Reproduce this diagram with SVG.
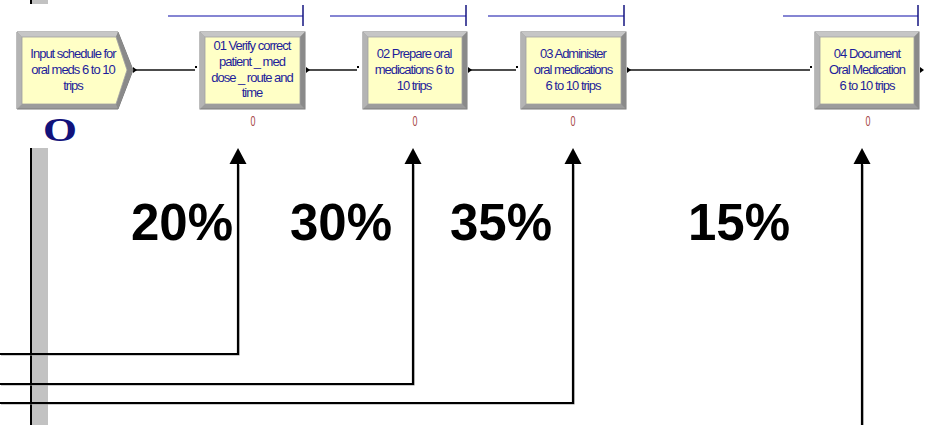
<svg xmlns="http://www.w3.org/2000/svg" width="926" height="425" viewBox="0 0 926 425">
<style>
.lbl{font-family:"Liberation Sans",Arial,sans-serif;font-size:13px;letter-spacing:-1px;fill:#1e1e9a;text-anchor:middle}
.cnt{font-family:"Liberation Sans",Arial,sans-serif;font-size:14px;fill:#a84848;text-anchor:middle}
.pct{font-family:"Liberation Sans",Arial,sans-serif;font-size:51px;font-weight:bold;fill:#000}
.outer{fill:#9c9c9c;stroke:#7c7c7c;stroke-width:1}
.top{fill:#c6c6c6}
.left{fill:#b4b4b4}
.right{fill:#8a8a8a}
.inner{fill:#ffffc6;stroke:#a0a0a0;stroke-width:0.8}
.hl{stroke:#5c5cc4;stroke-width:1.5}
.tick{stroke:#141480;stroke-width:1.5}
.conn{stroke:#111;stroke-width:1.3;fill:none}
.arr{stroke:#000;stroke-width:2.2;fill:none}
.sh{stroke:#9a9a9a;stroke-width:1.2;fill:none}
.head{fill:#000}
</style>
<rect width="926" height="425" fill="#fff"/>
<!-- left vertical bar -->
<g id="bar">
<rect x="32" y="0" width="16" height="4" fill="#c2c2c2"/>
<rect x="30" y="0" width="2" height="4" fill="#000"/>
<rect x="32" y="148" width="16" height="277" fill="#c2c2c2"/>
<rect x="30" y="148" width="2" height="277" fill="#000"/>
</g>
<!-- blue bars above nodes -->
<g id="bars">
<line class="hl" x1="168" y1="16" x2="303" y2="16"/><line class="tick" x1="303" y1="5" x2="303" y2="26"/>
<line class="hl" x1="330" y1="16" x2="466" y2="16"/><line class="tick" x1="466" y1="5" x2="466" y2="26"/>
<line class="hl" x1="488" y1="16" x2="624" y2="16"/><line class="tick" x1="624" y1="5" x2="624" y2="26"/>
<line class="hl" x1="783" y1="16" x2="918" y2="16"/><line class="tick" x1="918" y1="5" x2="918" y2="26"/>
</g>
<!-- connectors -->
<g id="connectors">
<line class="conn" x1="134" y1="70" x2="195" y2="70"/>
<line class="conn" x1="308" y1="70" x2="357" y2="70"/>
<line class="conn" x1="470" y1="70" x2="516" y2="70"/>
<line class="conn" x1="629" y1="70" x2="810" y2="70"/>
<polygon points="133,67 137,70 133,73" fill="#000"/>
<polygon points="306,67 310,70 306,73" fill="#000"/>
<polygon points="468,67 472,70 468,73" fill="#000"/>
<polygon points="627,67 631,70 627,73" fill="#000"/>
<polygon points="920,67 924,70 920,73" fill="#000"/>
<rect x="195" y="66" width="2" height="2" fill="#000"/>
<rect x="357" y="66" width="2" height="2" fill="#000"/>
<rect x="516" y="66" width="2" height="2" fill="#000"/>
<rect x="810" y="66" width="2" height="2" fill="#000"/>
<!-- percentage arrows -->
<polyline class="sh" points="1,355 239,355 239,165"/>
<polyline class="sh" points="1,385 414,385 414,165"/>
<polyline class="sh" points="1,404 574,404 574,165"/>
<line class="sh" x1="863" y1="425" x2="863" y2="165"/>
<polyline class="arr" points="0,354 238,354 238,162"/>
<polyline class="arr" points="0,384 413,384 413,162"/>
<polyline class="arr" points="0,403 573,403 573,162"/>
<line class="arr" x1="862" y1="425" x2="862" y2="162"/>
<polygon class="head" points="238,148 246.5,164 229.5,164"/>
<polygon class="head" points="413,148 421.5,164 404.5,164"/>
<polygon class="head" points="573,148 581.5,164 564.5,164"/>
<polygon class="head" points="862,148 870.5,164 853.5,164"/>
</g>
<!-- node 0: create module -->
<g id="node0">
<polygon class="outer" points="17,32 118,32 133,70 118,109 17,109"/>
<polygon class="top" points="17,32 118,32 116,37 22,37"/>
<polygon class="left" points="17,32 22,37 22,104 17,109"/>
<polygon class="right" points="118,32 133,70 118,109 116,104 127,70 116,37"/>
<polygon class="inner" points="22,37 116,37 127,70 116,104 22,104"/>
<text class="lbl" x="73" y="58">Input schedule for</text>
<text class="lbl" x="73" y="74">oral meds 6 to 10</text>
<text class="lbl" x="73" y="90">trips</text>
<text x="60" y="141" font-family="Liberation Serif,'Times New Roman',serif" font-weight="bold" font-size="34" fill="#12127c" text-anchor="middle" textLength="34" lengthAdjust="spacingAndGlyphs">O</text>
</g>
<!-- node 1 -->
<g id="node1">
<rect class="outer" x="200" y="32" width="105" height="77"/>
<polygon class="top" points="200,32 305,32 300,37 205,37"/>
<polygon class="left" points="200,32 205,37 205,104 200,109"/>
<polygon class="right" points="305,32 305,109 300,104 300,37"/>
<rect class="inner" x="205" y="37" width="95" height="67"/>
<text class="lbl" x="252" y="50">01 Verify correct</text>
<text class="lbl" x="252" y="66">patient _ med</text>
<text class="lbl" x="252" y="81.5">dose _ route and</text>
<text class="lbl" x="252" y="97">time</text>
<text class="cnt" x="253" y="126" textLength="5" lengthAdjust="spacingAndGlyphs">0</text>
</g>
<!-- node 2 -->
<g id="node2">
<rect class="outer" x="363" y="32" width="104" height="77"/>
<polygon class="top" points="363,32 467,32 462,37 368,37"/>
<polygon class="left" points="363,32 368,37 368,104 363,109"/>
<polygon class="right" points="467,32 467,109 462,104 462,37"/>
<rect class="inner" x="368" y="37" width="94" height="67"/>
<text class="lbl" x="414" y="58">02 Prepare oral</text>
<text class="lbl" x="414" y="74">medications 6 to</text>
<text class="lbl" x="414" y="90">10 trips</text>
<text class="cnt" x="415" y="126" textLength="5" lengthAdjust="spacingAndGlyphs">0</text>
</g>
<!-- node 3 -->
<g id="node3">
<rect class="outer" x="521" y="32" width="105" height="77"/>
<polygon class="top" points="521,32 626,32 621,37 526,37"/>
<polygon class="left" points="521,32 526,37 526,104 521,109"/>
<polygon class="right" points="626,32 626,109 621,104 621,37"/>
<rect class="inner" x="526" y="37" width="95" height="67"/>
<text class="lbl" x="573" y="58">03 Administer</text>
<text class="lbl" x="573" y="74">oral medications</text>
<text class="lbl" x="573" y="90">6 to 10 trips</text>
<text class="cnt" x="573" y="126" textLength="5" lengthAdjust="spacingAndGlyphs">0</text>
</g>
<!-- node 4 -->
<g id="node4">
<rect class="outer" x="815" y="32" width="104" height="77"/>
<polygon class="top" points="815,32 919,32 914,37 820,37"/>
<polygon class="left" points="815,32 820,37 820,104 815,109"/>
<polygon class="right" points="919,32 919,109 914,104 914,37"/>
<rect class="inner" x="820" y="37" width="94" height="67"/>
<text class="lbl" x="867" y="58">04 Document</text>
<text class="lbl" x="867" y="74">Oral Medication</text>
<text class="lbl" x="867" y="90">6 to 10 trips</text>
<text class="cnt" x="868" y="126" textLength="5" lengthAdjust="spacingAndGlyphs">0</text>
</g>
<!-- percentages -->
<g id="labels">
<text class="pct" x="131" y="240">20%</text>
<text class="pct" x="290" y="240">30%</text>
<text class="pct" x="450" y="240">35%</text>
<text class="pct" x="688" y="240">15%</text>
</g>
</svg>
